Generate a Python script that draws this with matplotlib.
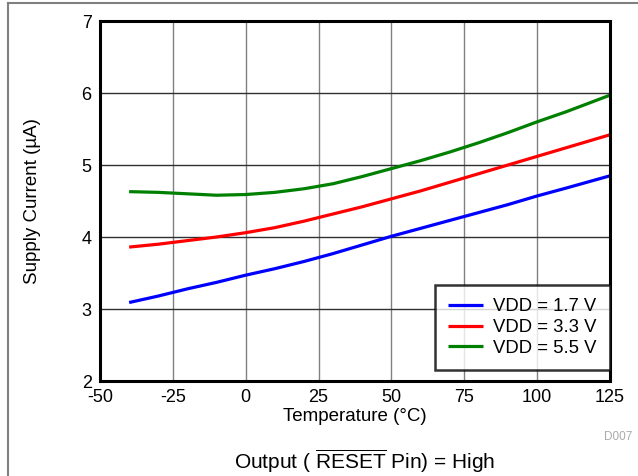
import matplotlib
matplotlib.use("Agg")
import matplotlib.pyplot as plt
from matplotlib.lines import Line2D

plt.rcParams['font.family'] = ['Liberation Sans', 'DejaVu Sans']
plt.rcParams['mathtext.fontset'] = 'custom'
plt.rcParams['mathtext.rm'] = 'Liberation Sans'
plt.rcParams['axes.unicode_minus'] = False

# temperature points (degC)
temp = [-40, -30, -20, -10, 0, 10, 20, 30, 40, 50, 60, 70, 80, 90, 100, 110, 125]
# supply current (uA) for each VDD
vdd17 = [3.09, 3.18, 3.28, 3.37, 3.47, 3.56, 3.66, 3.77, 3.89, 4.01, 4.12, 4.23, 4.34, 4.45, 4.57, 4.68, 4.85]
vdd33 = [3.86, 3.90, 3.95, 4.00, 4.06, 4.13, 4.22, 4.32, 4.42, 4.53, 4.64, 4.76, 4.88, 5.00, 5.12, 5.24, 5.42]
vdd55 = [4.63, 4.62, 4.60, 4.58, 4.59, 4.62, 4.67, 4.74, 4.84, 4.95, 5.06, 5.18, 5.31, 5.45, 5.60, 5.74, 5.97]

labels = ['VDD = 1.7 V', 'VDD = 3.3 V', 'VDD = 5.5 V']
colors = ['#0000ff', '#ff0000', '#008000']

fig = plt.figure(figsize=(6.38, 4.76), dpi=100)
ax = fig.add_axes([100/638, 1 - 381/476, 510/638, 360/476])

for ys, lab, c in zip([vdd17, vdd33, vdd55], labels, colors):
    ax.plot(temp, ys, color=c, lw=2.3, label=lab, solid_capstyle='butt')

ax.set_xlim(-50, 125)
ax.set_ylim(2, 7)
ax.set_xticks(range(-50, 126, 25))
ax.set_yticks(range(2, 8))

# grid: vertical gray, horizontal darker
for x in range(-25, 125, 25):
    ax.axvline(x, color='#808080', lw=1.0, zorder=0)
for y in range(3, 7):
    ax.axhline(y, color='#303030', lw=1.0, zorder=0)

for s in ax.spines.values():
    s.set_linewidth(2.2)
    s.set_color('black')
ax.tick_params(axis='both', length=0, labelsize=13, pad=6, colors='black')

ax.set_xlabel('Temperature (°C)', fontsize=13.5, labelpad=1)
ax.set_ylabel('Supply Current (µA)', fontsize=13.5, labelpad=29)

leg = ax.legend(loc='lower right', bbox_to_anchor=(1.0, 11/360), borderaxespad=0,
                fontsize=13.3, frameon=True, fancybox=False, handlelength=1.9,
                labelspacing=0.2, borderpad=0.72, handletextpad=0.55)
leg.get_frame().set_edgecolor('black')
leg.get_frame().set_linewidth(1.8)

fig.text(632/638, 1 - 437/476, 'D007', ha='right', va='center', fontsize=8.5, color='#aaaaaa')
fig.text(365/638, 1 - 461/476, r'Output ( $\overline{\mathrm{RESET}}$ Pin) = High',
         ha='center', va='center', fontsize=15)

# partial gray frame round the figure
fig.add_artist(Line2D([8/638, 1.0], [1 - 3/476, 1 - 3/476], transform=fig.transFigure,
                      color='#808080', lw=1.5))
fig.add_artist(Line2D([8/638, 8/638], [1 - 3/476, 0.0], transform=fig.transFigure,
                      color='#808080', lw=1.5))

fig.savefig('out.png', dpi=100)
